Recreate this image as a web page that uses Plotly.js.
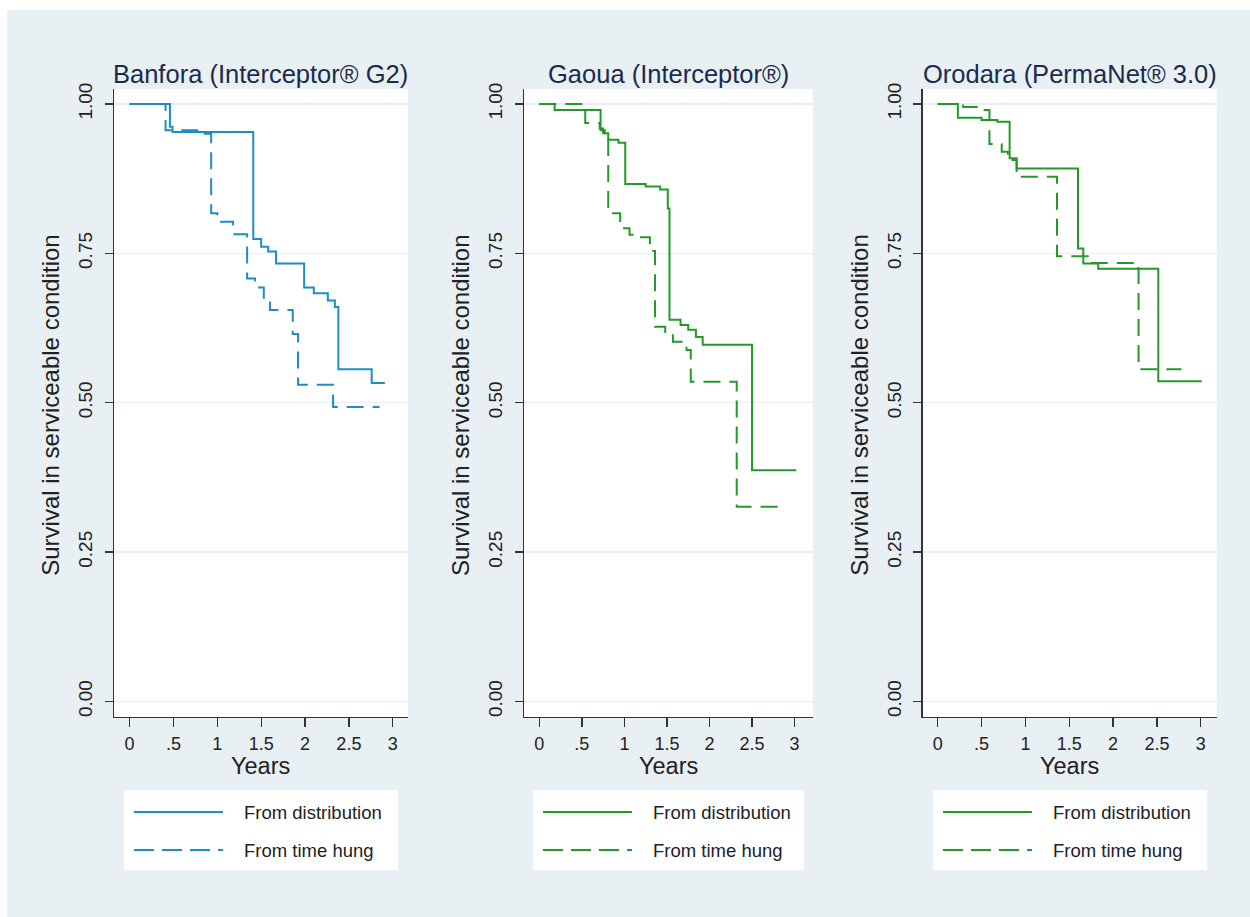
<!DOCTYPE html>
<html>
<head>
<meta charset="utf-8">
<script src="https://cdn.plot.ly/plotly-3.0.1.min.js"></script>
<style>
html,body{margin:0;padding:0;background:#ffffff;}
#chart{position:absolute;left:7px;top:10px;width:1243px;height:907px;}
</style>
</head>
<body>
<div id="chart"></div>
<script>
// ---- data ----
var panelTitles = ["Banfora (Interceptor® G2)", "Gaoua (Interceptor®)", "Orodara (PermaNet® 3.0)"];
var seriesNames = ["From distribution", "From time hung"];
var xTickVals = [0, 0.5, 1, 1.5, 2, 2.5, 3];
var xTickText = ["0", ".5", "1", "1.5", "2", "2.5", "3"];
var yTickVals = [0, 0.25, 0.5, 0.75, 1];
var yTickText = ["0.00", "0.25", "0.50", "0.75", "1.00"];

var banforaDistX = [0, 0.46, 0.49, 1.41, 1.50, 1.58, 1.67, 1.99, 2.10, 2.26, 2.34, 2.38, 2.76, 2.91];
var banforaDistY = [1, 0.962, 0.953, 0.774, 0.761, 0.753, 0.733, 0.693, 0.683, 0.671, 0.660, 0.556, 0.533, 0.533];
var banforaHungX = [0, 0.41, 0.82, 0.93, 1.00, 1.18, 1.34, 1.43, 1.53, 1.60, 1.86, 1.92, 2.32, 2.85];
var banforaHungY = [1, 0.956, 0.950, 0.817, 0.803, 0.782, 0.708, 0.693, 0.672, 0.655, 0.615, 0.530, 0.493, 0.493];

var gaouaDistX = [0, 0.18, 0.72, 0.77, 0.81, 0.93, 1.01, 1.25, 1.42, 1.51, 1.53, 1.66, 1.75, 1.84, 1.92, 2.50, 3.02];
var gaouaDistY = [1, 0.990, 0.956, 0.951, 0.940, 0.935, 0.866, 0.862, 0.857, 0.825, 0.639, 0.630, 0.622, 0.610, 0.597, 0.387, 0.387];
var gaouaHungX = [0, 0.54, 0.71, 0.75, 0.81, 0.95, 1.06, 1.18, 1.30, 1.36, 1.48, 1.57, 1.73, 1.78, 2.32, 2.85];
var gaouaHungY = [1, 0.968, 0.959, 0.951, 0.817, 0.792, 0.781, 0.777, 0.754, 0.627, 0.616, 0.602, 0.588, 0.535, 0.326, 0.326];

var orodaraDistX = [0, 0.23, 0.50, 0.68, 0.82, 0.90, 1.60, 1.66, 1.83, 2.515, 3.01];
var orodaraDistY = [1, 0.977, 0.973, 0.970, 0.909, 0.892, 0.758, 0.733, 0.724, 0.536, 0.536];
var orodaraHungX = [0, 0.29, 0.50, 0.59, 0.73, 0.80, 0.90, 1.36, 1.71, 2.29, 2.78];
var orodaraHungY = [1, 0.995, 0.990, 0.933, 0.920, 0.906, 0.878, 0.745, 0.734, 0.556, 0.556];

var panelColors = ["#1f8dc4", "#25982a", "#25982a"];

// ---- layout helpers (pixel geometry) ----
var W = 1243, H = 907, OX = 7, OY = 10;
function px(x){ return (x - OX) / W; }
function py(y){ return 1 - (y - OY) / H; }

var plotLeft = [113.8, 524, 922.7];
var plotRight = [408, 812.7, 1216.7];
var xRanges = [[-0.18, 3.174], [-0.18, 3.213], [-0.171, 3.181]];
var plotTop = 89, plotBottom = 717;
var legendBoxes = [[124, 398], [533, 804], [933, 1207]];

var dataSets = [
  [banforaDistX, banforaDistY, banforaHungX, banforaHungY],
  [gaouaDistX, gaouaDistY, gaouaHungX, gaouaHungY],
  [orodaraDistX, orodaraDistY, orodaraHungX, orodaraHungY]
];

var FONT = "Liberation Sans, Arial, sans-serif";
var traces = [];
var layout = {
  width: W, height: H,
  margin: {l: 0, r: 0, t: 0, b: 0, pad: 0},
  paper_bgcolor: "#e9f0f3",
  plot_bgcolor: "#ffffff",
  showlegend: false,
  font: {family: FONT, size: 18, color: "#222222"},
  annotations: [],
  shapes: []
};

var dashPattern = "17px,9px";

for (var i = 0; i < 3; i++) {
  var sfx = i === 0 ? "" : String(i + 1);
  var ds = dataSets[i];
  var col = panelColors[i];
  traces.push({
    x: ds[0], y: ds[1], type: "scatter", mode: "lines", name: seriesNames[0],
    line: {shape: "hv", color: col, width: 2},
    xaxis: "x" + sfx, yaxis: "y" + sfx, hoverinfo: "x+y"
  });
  traces.push({
    x: ds[2], y: ds[3], type: "scatter", mode: "lines", name: seriesNames[1],
    line: {shape: "hv", color: col, width: 2, dash: dashPattern},
    xaxis: "x" + sfx, yaxis: "y" + sfx, hoverinfo: "x+y"
  });

  layout["xaxis" + sfx] = {
    domain: [px(plotLeft[i]), px(plotRight[i])],
    range: xRanges[i],
    anchor: "y" + sfx,
    tickmode: "array", tickvals: xTickVals, ticktext: xTickText,
    ticks: "outside", ticklen: 9, tickwidth: 1.3, tickcolor: "#333333",
    showline: true, linecolor: "#333333", linewidth: 1.3,
    showgrid: false, zeroline: false, fixedrange: true,
    tickfont: {family: FONT, size: 18, color: "#222222"},
    ticklabelstandoff: 1
  };
  layout["yaxis" + sfx] = {
    domain: [py(plotBottom), py(plotTop)],
    range: [-0.026, 1.025],
    anchor: "x" + sfx,
    tickmode: "array", tickvals: yTickVals, ticktext: yTickText,
    tickangle: -90,
    ticks: "outside", ticklen: 8, tickwidth: 1.3, tickcolor: "#333333",
    showline: true, linecolor: "#333333", linewidth: 1.3,
    showgrid: true, gridcolor: "#e8eff2", gridwidth: 1.5,
    zeroline: false, fixedrange: true,
    tickfont: {family: FONT, size: 19, color: "#222222"},
    ticklabelstandoff: 5
  };

  var cx = (plotLeft[i] + plotRight[i]) / 2;
  // panel title
  layout.annotations.push({
    text: panelTitles[i], xref: "paper", yref: "paper",
    x: px(cx), y: py(74), xanchor: "center", yanchor: "middle",
    showarrow: false, font: {family: FONT, size: 25.5, color: "#1a2b4c"}
  });
  // y title
  layout.annotations.push({
    text: "Survival in serviceable condition", xref: "paper", yref: "paper",
    x: px(plotLeft[i] - 64), y: py(405), xanchor: "center", yanchor: "middle",
    textangle: -90, showarrow: false, font: {family: FONT, size: 24, color: "#222222"}
  });
  // x title
  layout.annotations.push({
    text: "Years", xref: "paper", yref: "paper",
    x: px(cx), y: py(766), xanchor: "center", yanchor: "middle",
    showarrow: false, font: {family: FONT, size: 23.5, color: "#222222"}
  });

  // legend box
  var lb = legendBoxes[i];
  layout.shapes.push({
    type: "rect", xref: "paper", yref: "paper",
    x0: px(lb[0]), x1: px(lb[1]), y0: py(870), y1: py(790),
    fillcolor: "#ffffff", line: {width: 0}, layer: "below"
  });
  layout.shapes.push({
    type: "line", xref: "paper", yref: "paper",
    x0: px(lb[0] + 10), x1: px(lb[0] + 99), y0: py(812), y1: py(812),
    line: {color: col, width: 2}
  });
  layout.shapes.push({
    type: "line", xref: "paper", yref: "paper",
    x0: px(lb[0] + 10), x1: px(lb[0] + 99), y0: py(850), y1: py(850),
    line: {color: col, width: 2, dash: "20px,8px"}
  });
  layout.annotations.push({
    text: seriesNames[0], xref: "paper", yref: "paper",
    x: px(lb[0] + 118), y: py(812), xanchor: "left", yanchor: "middle",
    showarrow: false, font: {family: FONT, size: 18.5, color: "#222222"}
  });
  layout.annotations.push({
    text: seriesNames[1], xref: "paper", yref: "paper",
    x: px(lb[0] + 118), y: py(850), xanchor: "left", yanchor: "middle",
    showarrow: false, font: {family: FONT, size: 18.5, color: "#222222"}
  });
}

Plotly.newPlot("chart", traces, layout, {displayModeBar: false, staticPlot: true});
</script>
</body>
</html>
